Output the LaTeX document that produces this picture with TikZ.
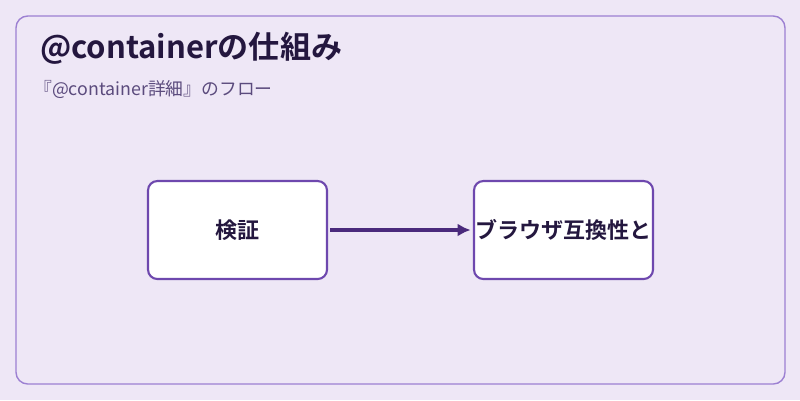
\documentclass[tikz,border=0pt]{standalone}
\usepackage{fontspec}
\usetikzlibrary{arrows.meta}
\setmainfont{Noto Sans CJK JP}
\newfontfamily\cjkb{Noto Sans CJK JP Bold}
\definecolor{bg}{HTML}{EEE7F6}
\definecolor{frame}{HTML}{9C80D2}
\definecolor{boxb}{HTML}{6E48AE}
\definecolor{arr}{HTML}{4A2A7C}
\definecolor{ttl}{HTML}{24173F}
\definecolor{sub}{HTML}{5B4B7D}
\tikzset{stepbox/.style={draw=boxb,line width=1.8pt,fill=white,rounded corners=8pt,minimum width=179*0.3mm,minimum height=98*0.3mm,inner sep=0pt,font=\cjkb\fontsize{18.8}{22}\selectfont,text=ttl}}
\begin{document}
\begin{tikzpicture}[x=0.3mm,y=-0.3mm]
\fill[bg] (0,0) rectangle (800,400);
\useasboundingbox (0,0) rectangle (800,400);
\draw[frame,fill=bg,line width=1.2pt,rounded corners=10pt] (16,16) rectangle (785,384);
\node[anchor=west,text=ttl,font=\cjkb\fontsize{26.5}{30}\selectfont,inner sep=0pt] (title) at (40,48) {@containerの仕組み};
\node[anchor=west,text=sub,font=\fontsize{15.2}{18}\selectfont,inner sep=0pt] (subt) at (34,90) {『@container詳細』のフロー};
\node[stepbox] (a) at (237.5,230) {検証};
\node[stepbox] (b) at (563.5,230) {ブラウザ互換性と};
\draw[arr,line width=2.6pt,-{Latex[length=11pt,width=11pt]}] ([xshift=2pt]a.east) -- ([xshift=-2pt]b.west);
\end{tikzpicture}
\end{document}
